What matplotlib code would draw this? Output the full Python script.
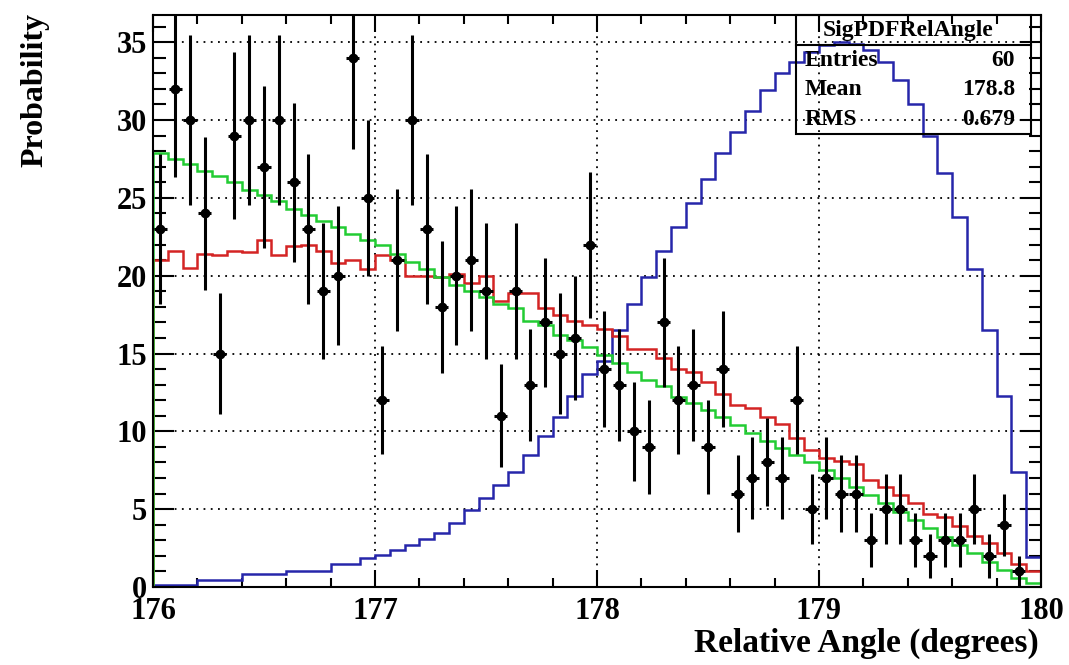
import numpy as np
import matplotlib
matplotlib.use("Agg")
import matplotlib.pyplot as plt
from matplotlib.ticker import MultipleLocator
from matplotlib.patches import Rectangle

# 60 bins between 176 and 180 degrees
x_lo, x_hi, n_bins = 176.0, 180.0, 60

# measured counts (black points, errors are sqrt(N))
data_counts = [23, 32, 30, 24, 15, 29, 30, 27, 30, 26,
               23, 19, 20, 34, 25, 12, 21, 30, 23, 18,
               20, 21, 19, 11, 19, 13, 17, 15, 16, 22,
               14, 13, 10, 9, 17, 12, 13, 9, 14, 6,
               7, 8, 7, 12, 5, 7, 6, 6, 3, 5,
               5, 3, 2, 3, 3, 5, 2, 4, 1, 0]

# signal pdf (blue)
sig_pdf = [0.13, 0.13, 0.13, 0.45, 0.45, 0.45, 0.83, 0.83, 0.83, 1.03,
           1.03, 1.03, 1.48, 1.48, 1.86, 2.06, 2.38, 2.70, 3.06, 3.50,
           4.10, 4.95, 5.70, 6.55, 7.40, 8.50, 9.70, 10.9, 12.3, 13.7,
           14.5, 16.5, 18.2, 19.9, 21.6, 23.1, 24.7, 26.2, 27.9, 29.2,
           30.6, 31.9, 33.0, 33.7, 34.4, 34.8, 35.0, 34.9, 34.5, 33.7,
           32.6, 31.0, 29.0, 26.6, 23.8, 20.4, 16.5, 12.3, 7.4, 1.9]

# background pdf (red)
bkg_pdf = [21.0, 21.6, 20.5, 21.4, 21.3, 21.6, 21.5, 22.3, 21.3, 21.9,
           22.0, 21.6, 20.8, 21.0, 20.4, 21.3, 21.0, 20.0, 20.0, 19.9,
           20.1, 19.5, 20.0, 18.4, 18.9, 18.9, 17.9, 17.5, 17.1, 16.8,
           16.6, 16.1, 15.3, 15.3, 14.7, 14.0, 13.8, 13.2, 12.4, 11.7,
           11.5, 10.9, 10.5, 9.6, 8.8, 8.3, 8.1, 7.9, 6.9, 6.4,
           5.9, 5.4, 4.7, 4.5, 3.9, 3.3, 2.8, 2.2, 1.5, 1.0]

# fit result (green)
fit_pdf = [27.9, 27.5, 27.2, 26.7, 26.4, 26.0, 25.5, 25.2, 24.8, 24.3,
           23.9, 23.5, 23.1, 22.7, 22.3, 22.0, 21.4, 20.9, 20.4, 19.9,
           19.4, 19.0, 18.6, 18.2, 17.9, 17.1, 16.8, 16.2, 15.9, 15.4,
           14.9, 14.4, 13.8, 13.3, 12.9, 12.2, 11.8, 11.4, 10.9, 10.4,
           9.9, 9.4, 8.9, 8.5, 8.0, 7.5, 7.0, 6.4, 5.9, 5.4,
           4.8, 4.3, 3.8, 3.2, 2.7, 2.2, 1.6, 1.1, 0.56, 0.24]

stats_title = "SigPDFRelAngle"
stats_rows = [("Entries", "60"), ("Mean", "178.8"), ("RMS", "0.679")]


def plot_rel_angle():
    plt.rcParams['font.family'] = ['Liberation Serif', 'DejaVu Serif']
    plt.rcParams['font.weight'] = 'bold'

    edges = np.linspace(x_lo, x_hi, n_bins + 1)
    centers = 0.5 * (edges[:-1] + edges[1:])
    width = edges[1] - edges[0]
    counts = np.array(data_counts, dtype=float)

    fig = plt.figure(figsize=(10.69, 6.65), dpi=100)
    ax = fig.add_axes([0.1431, 0.1173, 0.8307, 0.8602])

    ax.stairs(sig_pdf, edges, baseline=0, color='#2626aa', lw=1.8, zorder=2)
    ax.stairs(bkg_pdf, edges, baseline=0, color='#d42424', lw=1.8, zorder=2)
    ax.stairs(fit_pdf, edges, baseline=0, color='#22cc33', lw=1.8, zorder=2)

    # empty bins are not drawn
    m = counts > 0
    ax.errorbar(centers[m], counts[m], yerr=np.sqrt(counts[m]), xerr=width / 2 * 0.9,
                fmt='o', color='black', ms=6, elinewidth=2.2, capsize=0, zorder=3)

    ax.set_xlim(x_lo, x_hi)
    ax.set_ylim(0, 36.75)
    ax.xaxis.set_major_locator(MultipleLocator(1))
    ax.xaxis.set_minor_locator(MultipleLocator(0.2))
    ax.yaxis.set_major_locator(MultipleLocator(5))
    ax.yaxis.set_minor_locator(MultipleLocator(1))
    ax.grid(True, which='major', color='black', linestyle=(0, (1, 3)), linewidth=1.3)
    ax.set_axisbelow(True)

    ax.tick_params(which='both', direction='in', top=True, right=True, width=1.5)
    ax.tick_params(axis='x', which='major', length=12, labelsize=22, pad=7)
    ax.tick_params(axis='x', which='minor', length=6.5)
    ax.tick_params(axis='y', which='major', length=15, labelsize=22, pad=4)
    ax.tick_params(axis='y', which='minor', length=9)
    for lab in ax.get_xticklabels() + ax.get_yticklabels():
        lab.set_fontweight('bold')
    for sp in ax.spines.values():
        sp.set_linewidth(1.5)

    fig.text(1039 / 1069, 1 - 652 / 665, "Relative Angle (degrees)", ha='right',
             va='baseline', fontsize=24, fontweight='bold')
    fig.text(35 / 1069, 1 - 13 / 665, "Probability", ha='center', va='top',
             rotation=90, fontsize=23, fontweight='bold')

    # stats box
    bx0, bx1 = 0.724, 0.989
    by0, bsep, by1 = 0.792, 0.947, 1.0
    ax.add_patch(Rectangle((bx0, by0), bx1 - bx0, by1 - by0, transform=ax.transAxes,
                           fill=False, lw=1.5, color='black', zorder=4, clip_on=False))
    ax.plot([bx0, bx1], [bsep, bsep], transform=ax.transAxes, color='black', lw=1.5,
            zorder=4, clip_on=False)
    ax.text((bx0 + bx1) / 2 - 0.006, (bsep + by1) / 2, stats_title, transform=ax.transAxes,
            ha='center', va='center', fontsize=17, fontweight='bold', zorder=5)
    row_h = (bsep - by0) / len(stats_rows)
    for i, (name, val) in enumerate(stats_rows):
        yy = bsep - row_h * (i + 0.5)
        ax.text(bx0 + 0.01, yy, name, transform=ax.transAxes, ha='left', va='center',
                fontsize=17, fontweight='bold', zorder=5)
        ax.text(bx1 - 0.018, yy, val, transform=ax.transAxes, ha='right', va='center',
                fontsize=17, fontweight='bold', zorder=5)

    fig.savefig("out.png", dpi=100)


if __name__ == "__main__":
    plot_rel_angle()
